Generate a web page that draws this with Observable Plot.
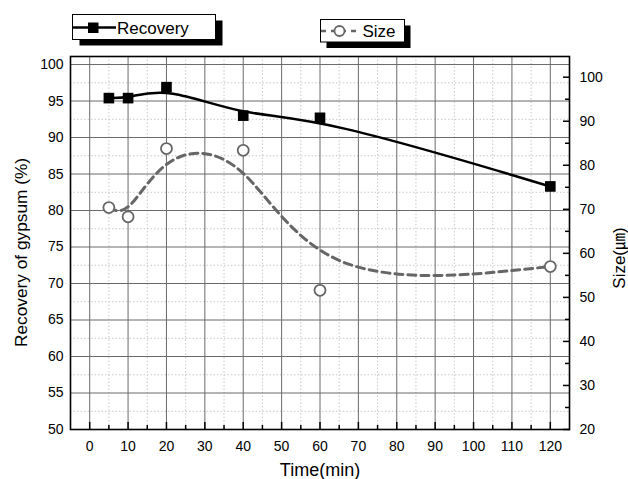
<!DOCTYPE html>
<html>
<head>
<meta charset="utf-8">
<script src="https://cdn.jsdelivr.net/npm/d3@7"></script>
<script src="https://cdn.jsdelivr.net/npm/@observablehq/plot@0.6"></script>
<style>
  html, body { margin: 0; padding: 0; background: #fff; }
  #wrap { position: relative; width: 628px; height: 479px; font-family: "Liberation Sans", Arial, "Noto Sans CJK KR", sans-serif; }
  #overlay { position: absolute; left: 0; top: 0; pointer-events: none; }
</style>
</head>
<body>
<div id="wrap"></div>
<script>
// ---- data ----
const time = [5, 10, 20, 40, 60, 120];
const recovery = [95.4, 95.4, 96.9, 93.0, 92.7, 83.3];
const size = [70.4, 68.3, 83.8, 83.4, 51.6, 57.0];

const xTicks = [0, 10, 20, 30, 40, 50, 60, 70, 80, 90, 100, 110, 120];
const xMinorTicks = [5, 15, 25, 35, 45, 55, 65, 75, 85, 95, 105, 115];
const yTicks = [50, 55, 60, 65, 70, 75, 80, 85, 90, 95, 100];
const yMinorTicks = [52.5, 57.5, 62.5, 67.5, 72.5, 77.5, 82.5, 87.5, 92.5, 97.5];
const sizeTicks = [20, 30, 40, 50, 60, 70, 80, 90, 100];
const sizeMinorTicks = [25, 35, 45, 55, 65, 75, 85, 95];

const xDomain = [-5, 125];
const yDomain = [50, 101.1];
const sizeDomain = [20, 104.7];

// map size (right axis) onto left axis units
const toLeft = s => yDomain[0] + (s - sizeDomain[0]) * (yDomain[1] - yDomain[0]) / (sizeDomain[1] - sizeDomain[0]);
const fromLeft = v => sizeDomain[0] + (v - yDomain[0]) * (sizeDomain[1] - sizeDomain[0]) / (yDomain[1] - yDomain[0]);

const recData = time.map((t, i) => ({t, v: recovery[i]}));
const sizeData = time.map((t, i) => ({t, v: toLeft(size[i])}));

const chart = Plot.plot({
  width: 628,
  height: 479,
  marginLeft: 70,
  marginRight: 59,
  marginTop: 56,
  marginBottom: 50,
  style: {fontFamily: '"Liberation Sans", Arial, sans-serif', fontSize: "14px", color: "#000", background: "#fff"},
  x: {domain: xDomain, axis: null},
  y: {domain: yDomain, axis: null},
  marks: [
    // minor grid (dotted)
    Plot.ruleX(xMinorTicks, {stroke: "#c8c8c8", strokeWidth: 1, strokeDasharray: "1.5,2"}),
    Plot.ruleY(yMinorTicks, {stroke: "#c8c8c8", strokeWidth: 1, strokeDasharray: "1.5,2"}),
    // major grid
    Plot.ruleX(xTicks, {stroke: "#6a6a6a", strokeWidth: 1}),
    Plot.ruleY(yTicks, {stroke: "#6a6a6a", strokeWidth: 1}),
    // bottom axis (inward ticks)
    Plot.axisX({ticks: xTicks, anchor: "bottom", tickSize: 7, insetBottom: 7, tickPadding: 12, label: null, strokeWidth: 1.5, stroke: "#000"}),
    Plot.axisX({ticks: xMinorTicks, anchor: "bottom", tickSize: 4, insetBottom: 4, tickFormat: () => "", label: null, strokeWidth: 1.5}),
    // left axis
    Plot.axisY({ticks: yTicks, anchor: "left", tickSize: 0, tickPadding: 7, label: null}),
    // right axis (size)
    Plot.axisY({ticks: sizeTicks.map(toLeft), anchor: "right", tickSize: 7, insetRight: 7, tickPadding: 10,
      tickFormat: v => Math.round(fromLeft(v)), label: null, strokeWidth: 1.5}),
    Plot.axisY({ticks: sizeMinorTicks.map(toLeft), anchor: "right", tickSize: 5, insetRight: 5,
      tickFormat: () => "", label: null, strokeWidth: 1.5}),
    Plot.frame({stroke: "#000", strokeWidth: 1.6}),
    // size series
    Plot.line(sizeData, {x: "t", y: "v", curve: "basis", stroke: "#666", strokeWidth: 3, strokeDasharray: "8,5"}),
    Plot.dot(sizeData, {x: "t", y: "v", r: 5.5, fill: "#fff", stroke: "#666", strokeWidth: 1.8}),
    // recovery series
    Plot.line(recData, {x: "t", y: "v", curve: "basis", stroke: "#000", strokeWidth: 2.5}),
    Plot.dot(recData, {x: "t", y: "v", symbol: "square", r: 6, fill: "#000", stroke: "none"})
  ]
});

const wrap = document.getElementById("wrap");
wrap.appendChild(chart);

// overlay: legends and axis titles
const ns = "http://www.w3.org/2000/svg";
const ov = d3.select(wrap).append("svg")
  .attr("id", "overlay")
  .attr("width", 628).attr("height", 479)
  .style("font-family", '"Liberation Sans", Arial, "Noto Sans CJK KR", sans-serif');

// Recovery legend
ov.append("rect").attr("x", 79.5).attr("y", 20.5).attr("width", 143).attr("height", 25).attr("fill", "#000");
ov.append("rect").attr("x", 72.5).attr("y", 14.5).attr("width", 143).attr("height", 25).attr("fill", "#fff").attr("stroke", "#000").attr("stroke-width", 1);
ov.append("line").attr("x1", 73).attr("x2", 116).attr("y1", 27.5).attr("y2", 27.5).attr("stroke", "#000").attr("stroke-width", 2.5);
ov.append("rect").attr("x", 88).attr("y", 22.5).attr("width", 10.5).attr("height", 10.5).attr("fill", "#000");
ov.append("text").attr("x", 117).attr("y", 33.5).attr("font-size", 17).text("Recovery");

// Size legend
ov.append("rect").attr("x", 326.5).attr("y", 25.5).attr("width", 84).attr("height", 22.5).attr("fill", "#000");
ov.append("rect").attr("x", 320.5).attr("y", 19.5).attr("width", 84).attr("height", 22.5).attr("fill", "#fff").attr("stroke", "#000").attr("stroke-width", 1);
ov.append("line").attr("x1", 321).attr("x2", 360).attr("y1", 31).attr("y2", 31).attr("stroke", "#666").attr("stroke-width", 2.5).attr("stroke-dasharray", "5,5");
ov.append("circle").attr("cx", 339.5).attr("cy", 31).attr("r", 5).attr("fill", "#fff").attr("stroke", "#666").attr("stroke-width", 1.8);
ov.append("text").attr("x", 362.5).attr("y", 37).attr("font-size", 17).text("Size");

// axis titles
ov.append("text").attr("x", 320).attr("y", 476).attr("text-anchor", "middle").attr("font-size", 18).text("Time(min)");
ov.append("text").attr("transform", "translate(27,252.5) rotate(-90)").attr("text-anchor", "middle").attr("font-size", 17.3).text("Recovery of gypsum (%)");
ov.append("text").attr("transform", "translate(625,258) rotate(-90)").attr("text-anchor", "middle").attr("font-size", 17).text("Size(㎛)");
</script>
</body>
</html>
